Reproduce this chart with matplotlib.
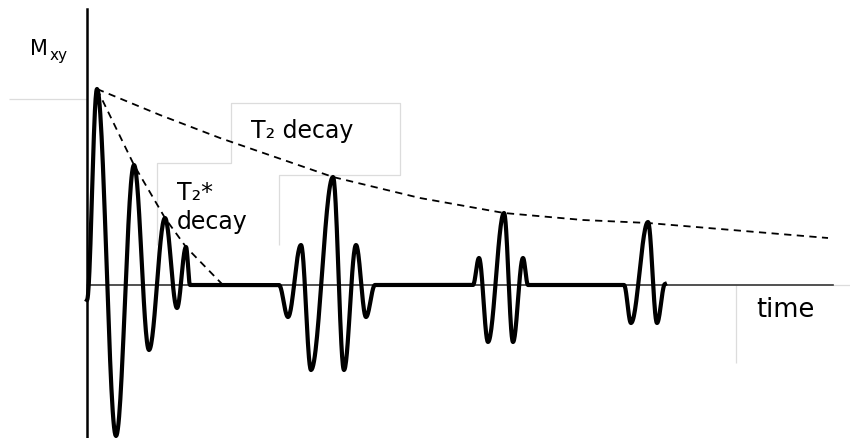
import numpy as np
import matplotlib
matplotlib.use("Agg")
import matplotlib.pyplot as plt

# Coordinates: time to the right of the vertical axis, signal above the baseline
# (in pixel units)

# signal vertices (extrema and baseline points), FID then three echoes
wave_t = [0, 10, 29, 47, 62, 78, 90, 99, 103,
          192, 201, 214, 224, 246, 257, 269, 279, 288,
          386, 392, 401, 417, 426, 436, 441,
          537, 544, 561, 570, 578]
wave_m = [-15, 196, -151, 120, -65, 67, -23, 38, 0,
          0, -32, 40, -85, 108, -85, 40, -32, 0,
          0, 27, -57, 72, -57, 27, 0,
          0, -38, 63, -38, 1]

# T2 envelope (through the echo peaks)
t2_t = [10, 73, 133, 246, 333, 417, 496, 561, 741]
t2_m = [196, 170, 147, 108, 87, 72, 65, 62, 47]

# T2* envelope (through the FID peaks)
t2s_t = [10, 47, 78, 99, 135]
t2s_m = [196, 120, 67, 38, 1]

# light guide lines in the drawing
guides = [
    ([-78, 0], [186, 186]),
    ([70, 70, 144, 144, 313, 313, 192, 192], [40, 122, 122, 182, 182, 110, 110, 40]),
    ([649, 649], [0, -78]),
    ([746, 763], [0, 0]),
]


def lobes(xs, ys, n=30):
    # half-cosine between consecutive vertices gives the rounded oscillation
    px, py = [xs[0]], [ys[0]]
    for x0, x1, y0, y1 in zip(xs[:-1], xs[1:], ys[:-1], ys[1:]):
        s = np.linspace(0, 1, n)[1:]
        px.extend(x0 + (x1 - x0) * s)
        py.extend(y0 + (y1 - y0) * (1 - np.cos(np.pi * s)) / 2)
    return px, py


fig = plt.figure(figsize=(8.5, 4.38), dpi=100)
ax = fig.add_axes([0, 0, 1, 1])
ax.set_xlim(-87, 763)
ax.set_ylim(-153, 285)
ax.axis("off")

gray = "#dcdcdc"
for gx, gy in guides:
    ax.plot(gx, gy, color=gray, lw=0.9, solid_capstyle="butt")

# axes
ax.plot([0, 0], [-153, 276], color="black", lw=1.8)
ax.plot([0, 746], [0, 0], color="#333333", lw=1.2)

# envelopes
ax.plot(t2_t, t2_m, color="black", lw=1.3, ls=(0, (4, 3)))
ax.plot(t2s_t, t2s_m, color="black", lw=1.3, ls=(0, (4, 3)))

# signal
wx, wy = lobes(wave_t, wave_m)
ax.plot(wx, wy, color="black", lw=3.0, solid_joinstyle="round")

# labels
ax.text(-57, 230, "M", fontsize=15, ha="left", va="baseline")
ax.text(-37, 225, "xy", fontsize=11, ha="left", va="baseline")
ax.text(164, 147, "T\u2082 decay", fontsize=17, ha="left", va="baseline")
ax.text(90, 85, "T\u2082*", fontsize=17, ha="left", va="baseline")
ax.text(90, 56, "decay", fontsize=17, ha="left", va="baseline")
ax.text(669, -32, "time", fontsize=18.5, ha="left", va="baseline")

fig.savefig("out.png", dpi=100)
